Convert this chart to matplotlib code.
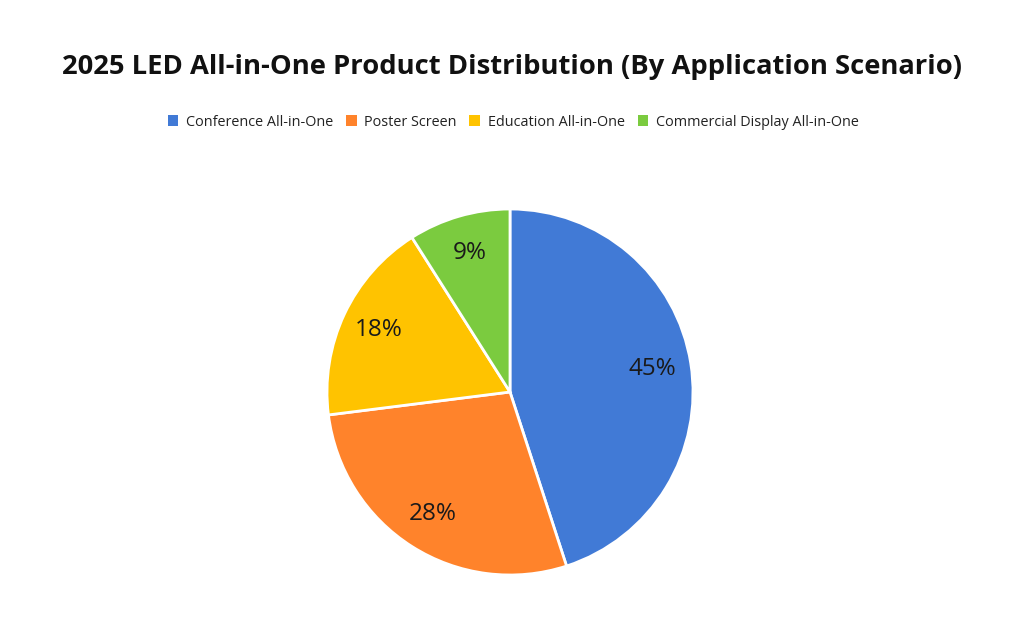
import matplotlib
matplotlib.use("Agg")
import matplotlib.pyplot as plt
from matplotlib.patches import Patch

categories = ["Conference All-in-One", "Poster Screen", "Education All-in-One", "Commercial Display All-in-One"]
values = [45, 28, 18, 9]
colors = ["#417AD6", "#FF832B", "#FFC300", "#7BCB3F"]
title = "2025 LED All-in-One Product Distribution (By Application Scenario)"

plt.rcParams['font.family'] = ['Open Sans', 'DejaVu Sans']

fig = plt.figure(figsize=(10.24, 6.17), dpi=100)
fig.patch.set_facecolor("white")

r = 183
cx, cy = 510, 392
ax = fig.add_axes([(cx - r) / 1024, (617 - cy - r) / 617, 2 * r / 1024, 2 * r / 617])
wedges, texts, autotexts = ax.pie(
    values, colors=colors, startangle=90, counterclock=False,
    autopct=lambda p: f"{p:.0f}%", pctdistance=0.79,
    wedgeprops=dict(edgecolor="white", linewidth=2),
    textprops=dict(fontsize=17.5, color="#1a1a1a"),
)
ax.set_aspect("equal")
ax.set_xlim(-1, 1)
ax.set_ylim(-1, 1)
ax.axis("off")

fig.text(0.5, 1 - 67 / 617, title, ha="center", va="center", fontsize=19.7, fontweight="bold", color="#111111")

handles = [Patch(facecolor=c, edgecolor="none") for c in colors]
fig.legend(handles, categories, loc="center", bbox_to_anchor=(0.501, 1 - 122 / 617),
           ncol=4, frameon=False, fontsize=10.4, handlelength=0.75, handleheight=0.75,
           handletextpad=0.5, columnspacing=0.9, labelcolor="#222222")

fig.savefig("out.png", dpi=100, facecolor="white")
